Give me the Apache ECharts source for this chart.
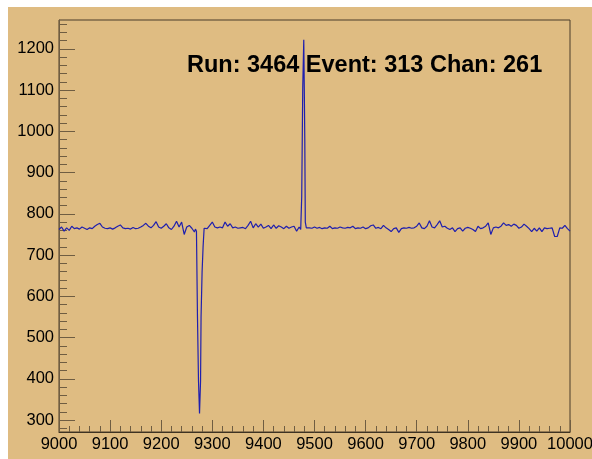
<!DOCTYPE html>
<html><head><meta charset="utf-8">
<script src="https://cdn.jsdelivr.net/npm/echarts@6/dist/echarts.min.js"></script>
<style>
html,body{margin:0;padding:0;background:#ffffff;width:592px;height:459px;overflow:hidden;}
#c{position:absolute;left:8px;top:7px;width:584px;height:452px;background:#dfbc82;}
</style></head>
<body><div id="c"></div>
<script>
// Title text
const titleText = "Run: 3464 Event: 313 Chan: 261";
// Axis ranges and tick labels
const xMin = 9000, xMax = 10000;
const yMin = 271, yMax = 1270;
const yTickLabels = [300,400,500,600,700,800,900,1000,1100,1200];
const yMinorTicks = [280,300,320,340,360,380,400,420,440,460,480,500,520,540,560,580,600,620,640,660,680,700,720,740,760,780,800,820,840,860,880,900,920,940,960,980,1000,1020,1040,1060,1080,1100,1120,1140,1160,1180,1200,1220,1240,1260];
// Baseline samples (every 5 ticks from 9000)
const baselineStep = 5;
const baselineY = [
762,768,758,766,760,770,764,766,763,768, 765,762,766,764,770,774,777,768,765,764,
766,763,766,770,773,766,764,765,763,767, 764,765,768,772,777,770,766,772,781,768,
765,770,776,766,762,770,782,768,780,750, 768,772,765,756,760,760,760,765,764,772,
780,768,766,768,766,780,770,776,766,768, 765,766,767,764,772,782,766,776,768,775,
765,768,772,764,773,765,771,768,764,770, 765,768,770,758,768,764,765,765,766,765,
768,765,767,764,766,765,770,764,766,765, 768,766,765,767,766,770,764,766,765,768,
764,766,771,773,765,767,764,772,766,762, 757,764,766,755,764,766,765,767,765,766,
770,778,766,764,770,783,768,766,774,783, 768,770,765,762,766,757,764,766,758,765,
767,765,762,757,770,764,766,770,778,750, 766,768,766,770,778,772,774,770,775,772,
765,768,775,770,764,757,765,758,766,757, 766,764,765,766,745,745,766,765,772,764,
758];
// Negative pulse (histogram steps, edges listed explicitly)
const negPulseX = [9267,9269,9271,9271,9273,9273,9275,9275,9277,9277,9278,9278,9280,9280,9282,9282,9284,9284,9286];
const negPulseY = [763, 758, 760, 549, 549, 394, 394, 316, 316, 394, 394, 549, 549, 658, 658, 721, 721, 765, 762];
// Positive pulse (histogram steps, edges listed explicitly)
const posPulseX = [9471,9473,9475,9475,9477,9477,9479,9479,9480,9480,9481,9481,9482,9482,9484,9484,9486];
const posPulseY = [766, 762, 765, 842, 842, 1106,1106,1222,1222,1106,1106,980, 980, 780, 780, 766, 767];

// Build merged data
const pts = [];
baselineY.forEach((v,i)=>{
  const x = xMin + i*baselineStep;
  if ((x >= negPulseX[0] && x <= negPulseX[negPulseX.length-1]) ||
      (x >= posPulseX[0] && x <= posPulseX[posPulseX.length-1])) return;
  pts.push([x, v]);
});
negPulseX.forEach((x,i)=>pts.push([x, negPulseY[i]]));
posPulseX.forEach((x,i)=>pts.push([x, posPulseY[i]]));
pts.sort((a,b)=>a[0]-b[0]);

const chart = echarts.init(document.getElementById('c'), null, {renderer:'canvas'});
const axisCol = '#6f5d42';
const labelStyle = {color:'#000000', fontSize:16.5, fontFamily:'"Liberation Sans", Arial, Helvetica, sans-serif', formatter:(v)=>String(v)};
chart.setOption({
  animation:false,
  backgroundColor:'transparent',
  grid:{left:51, right:22, top:13, bottom:27, show:true, borderColor:'#4a3d2a', borderWidth:1, backgroundColor:'transparent', containLabel:false, outerBoundsMode:'none'},
  xAxis:{
    type:'value', min:xMin, max:xMax, interval:100,
    axisLine:{show:true, onZero:false, lineStyle:{color:'#3d3222', width:1}},
    axisTick:{show:true, inside:true, length:12, lineStyle:{color:axisCol}},
    minorTick:{show:true, splitNumber:5, length:6, lineStyle:{color:axisCol}},
    axisLabel:{...labelStyle, margin:4, hideOverlap:false},
    splitLine:{show:false}
  },
  yAxis:[{
    type:'value', min:yMin, max:yMax,
    axisLine:{show:true, onZero:false, lineStyle:{color:axisCol, width:1}},
    axisTick:{show:true, inside:true, length:16, customValues:yTickLabels, lineStyle:{color:axisCol}},
    axisLabel:{...labelStyle, margin:5, customValues:yTickLabels},
    splitLine:{show:false}
  },{
    type:'value', min:yMin, max:yMax, position:'left', offset:0,
    axisLine:{show:false},
    axisTick:{show:true, inside:true, length:8, customValues:yMinorTicks, lineStyle:{color:axisCol}},
    axisLabel:{show:false},
    splitLine:{show:false}
  }],
  graphic:[{
    type:'text', left:179, top:47,
    style:{text:titleText, fill:'#000000', font:'bold 23.5px "Liberation Sans", Arial, Helvetica, sans-serif'}
  }],
  series:[{
    type:'line', data:pts, showSymbol:false, symbol:'none',
    lineStyle:{color:'#1f1fae', width:1.2},
    clip:true
  }]
});
</script></body></html>
